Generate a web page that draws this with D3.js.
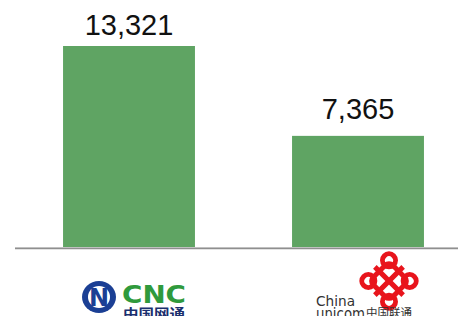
<!DOCTYPE html>
<html><head><meta charset="utf-8">
<script src="https://cdn.jsdelivr.net/npm/d3@7"></script>
<style>html,body{margin:0;padding:0;background:#fff;overflow:hidden}</style>
</head><body>
<svg id="c" width="458" height="316"></svg>
<script>
const categories = ["CNC 中国网通", "China Unicom 中国联通"];
const values = [13321, 7365];
const valueLabels = ["13,321", "7,365"];

const svg = d3.select("#c");
const x = d3.scaleBand().domain(categories).range([14.5, 472.5]).paddingInner(0.424).paddingOuter(0.212);
const y = d3.scaleLinear().domain([0, 13321]).range([247, 46]);
const labelGap = [11, 17];

svg.selectAll("rect.bar").data(values).join("rect").attr("class","bar")
  .attr("x",(d,i)=>x(categories[i])).attr("width",x.bandwidth())
  .attr("y",d=>y(d)).attr("height",d=>y(0)-y(d)).attr("fill","#5fa463");

svg.selectAll("text.val").data(values).join("text").attr("class","val")
  .attr("x",(d,i)=>x(categories[i])+x.bandwidth()/2).attr("y",(d,i)=>y(d)-labelGap[i])
  .attr("text-anchor","middle").attr("font-family","Liberation Sans, Arial, sans-serif")
  .attr("font-size",29).attr("fill","#111").text((d,i)=>valueLabels[i]);

svg.append("line").attr("x1",15).attr("x2",458).attr("y1",247.5).attr("y2",247.5).attr("stroke","#d0d0d0").attr("stroke-width",1);
svg.append("line").attr("x1",15).attr("x2",458).attr("y1",248.5).attr("y2",248.5).attr("stroke","#8f8f8f").attr("stroke-width",1.5);

// CNC logo
const g1 = svg.append("g");
g1.append("ellipse").attr("cx",99).attr("cy",297).attr("rx",17).attr("ry",16).attr("fill","#1b3f94");
g1.append("ellipse").attr("cx",99).attr("cy",297).attr("rx",11).attr("ry",11).attr("fill","#fff");
g1.append("text").attr("x",99).attr("y",306).attr("text-anchor","middle").attr("font-family","DejaVu Sans, sans-serif").attr("font-weight","bold").attr("font-size",24).attr("fill","#1b3f94").text("N");
g1.append("text").attr("x",122).attr("y",303).attr("font-family","DejaVu Sans, sans-serif").attr("font-weight","bold").attr("font-size",25).attr("fill","#2f9a3c").attr("textLength",64).attr("lengthAdjust","spacingAndGlyphs").text("CNC");
g1.append("text").attr("x",123).attr("y",318).attr("font-family","Noto Sans CJK SC, sans-serif").attr("font-weight","bold").attr("font-size",13).attr("fill","#1b2f6e").attr("textLength",62).attr("lengthAdjust","spacingAndGlyphs").text("中国网通");

// Unicom logo
const g2 = svg.append("g").attr("transform","translate(389,281) rotate(45) scale(1.25)");
const red = "#e8141c";
[[-9,-9],[9,-9],[-9,9],[9,9]].forEach(([a,b])=>{
  g2.append("circle").attr("cx",a*1.3).attr("cy",b*1.3).attr("r",5.2).attr("fill","none").attr("stroke",red).attr("stroke-width",4);
});
g2.append("rect").attr("x",-11).attr("y",-11).attr("width",22).attr("height",22).attr("rx",4).attr("fill","none").attr("stroke",red).attr("stroke-width",4);
g2.append("line").attr("x1",-16).attr("x2",16).attr("y1",0).attr("y2",0).attr("stroke",red).attr("stroke-width",4);
g2.append("line").attr("y1",-16).attr("y2",16).attr("x1",0).attr("x2",0).attr("stroke",red).attr("stroke-width",4);
svg.append("text").attr("x",316).attr("y",306).attr("font-family","DejaVu Sans, sans-serif").attr("font-size",14).attr("fill","#333").attr("textLength",39).attr("lengthAdjust","spacingAndGlyphs").text("China");
svg.append("text").attr("x",316).attr("y",319).attr("font-family","DejaVu Sans, sans-serif").attr("font-size",15).attr("fill","#333").attr("textLength",49).attr("lengthAdjust","spacingAndGlyphs").text("unicom");
svg.append("text").attr("x",366).attr("y",317).attr("font-family","Noto Sans CJK SC, sans-serif").attr("font-size",11.5).attr("fill","#333").attr("textLength",46).attr("lengthAdjust","spacingAndGlyphs").text("中国联通");
</script>
</body></html>
